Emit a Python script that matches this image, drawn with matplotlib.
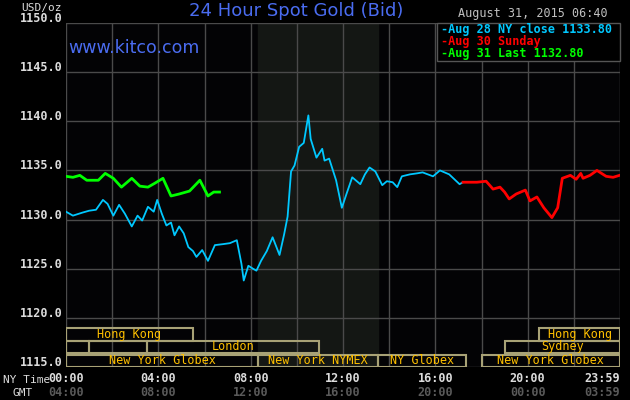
import matplotlib.pyplot as plt
from matplotlib.patches import Rectangle

# NY time in hours, price in USD/oz
aug28_h = [0.0, 0.3, 0.7, 1.0, 1.3, 1.6, 1.8, 2.05, 2.3, 2.55, 2.85, 3.1, 3.3, 3.55, 3.8, 3.95,
           4.15, 4.35, 4.55, 4.7, 4.9, 5.1, 5.3, 5.5, 5.65, 5.9, 6.15, 6.45, 6.8, 7.1, 7.4,
           7.6, 7.7, 7.9, 8.1, 8.25, 8.45, 8.7, 8.95, 9.25, 9.45, 9.6, 9.75, 9.9, 10.1, 10.3,
           10.5, 10.6, 10.85, 11.1, 11.2, 11.4, 11.7, 11.95, 12.15, 12.4, 12.75, 12.95, 13.15,
           13.4, 13.7, 13.9, 14.15, 14.35, 14.55, 14.9, 15.2, 15.45, 15.9, 16.2, 16.6, 17.05, 17.2]
aug28_p = [1130.8, 1130.4, 1130.7, 1130.9, 1131.0, 1132.0, 1131.6, 1130.4, 1131.5, 1130.6, 1129.3,
           1130.4, 1129.9, 1131.3, 1130.8, 1132.0, 1130.6, 1129.4, 1129.7, 1128.4, 1129.3, 1128.6,
           1127.2, 1126.8, 1126.2, 1126.9, 1125.8, 1127.4, 1127.5, 1127.6, 1127.9, 1125.5, 1123.8,
           1125.3, 1125.0, 1124.8, 1125.8, 1126.8, 1128.2, 1126.4, 1128.5, 1130.3, 1134.9, 1135.5,
           1137.4, 1137.8, 1140.6, 1138.2, 1136.3, 1137.2, 1136.0, 1136.2, 1134.0, 1131.2, 1132.6,
           1134.3, 1133.6, 1134.6, 1135.3, 1134.9, 1133.5, 1133.9, 1133.8, 1133.3, 1134.4, 1134.6,
           1134.7, 1134.8, 1134.4, 1135.0, 1134.6, 1133.6, 1133.8]
aug30_h = [17.2, 17.8, 18.2, 18.5, 18.8, 19.0, 19.2, 19.5, 19.9, 20.1, 20.4, 20.7, 21.05, 21.3,
           21.5, 21.85, 22.1, 22.3, 22.4, 22.7, 23.0, 23.4, 23.7, 23.98]
aug30_p = [1133.8, 1133.8, 1133.9, 1133.1, 1133.3, 1132.8, 1132.1, 1132.6, 1133.0, 1131.9, 1132.3,
           1131.2, 1130.2, 1131.2, 1134.2, 1134.5, 1134.1, 1134.7, 1134.2, 1134.5, 1135.0, 1134.4,
           1134.3, 1134.5]
aug31_h = [0.0, 0.3, 0.6, 0.9, 1.4, 1.7, 2.05, 2.4, 2.85, 3.2, 3.55, 3.85, 4.2, 4.55, 4.9, 5.35,
           5.8, 6.15, 6.4, 6.65]
aug31_p = [1134.4, 1134.3, 1134.5, 1134.0, 1134.0, 1134.7, 1134.2, 1133.3, 1134.2, 1133.4, 1133.3,
           1133.7, 1134.2, 1132.4, 1132.6, 1132.9, 1134.0, 1132.4, 1132.8, 1132.8]

y_ticks = [1115, 1120, 1125, 1130, 1135, 1140, 1145, 1150]
x_ticks = [0, 4, 8, 12, 16, 20, 24]
ny_labels = ["00:00", "04:00", "08:00", "12:00", "16:00", "20:00", "23:59"]
gmt_labels = ["04:00", "08:00", "12:00", "16:00", "20:00", "00:00", "03:59"]

# sessions: (row, start, end, label)
sessions = [
    (0, 0, 5.5, "Hong Kong"), (0, 20.5, 24, "Hong Kong"),
    (1, 0, 1.0, ""), (1, 1.0, 3.5, ""), (1, 3.5, 10.96, "London"), (1, 19.0, 24, "Sydney"),
    (2, 0, 8.33, "New York Globex"), (2, 8.33, 13.5, "New York NYMEX"),
    (2, 13.5, 17.33, "NY Globex"), (2, 18.0, 24, "New York Globex"),
]
row_y = [(1117.65, 1119.0), (1116.45, 1117.65), (1115.0, 1116.25)]

mono = "DejaVu Sans Mono"
fig = plt.figure(figsize=(6.3, 4.0), dpi=100, facecolor="black")
ax = fig.add_axes([66 / 630, 33 / 400, 554 / 630, 344 / 400], facecolor="#030305")
ax.set_xlim(0, 24)
ax.set_ylim(1115, 1150)

ax.axvspan(8.33, 13.5, color="#141714", zorder=0)
for t in range(0, 25, 2):
    ax.axvline(t, color="#4a4a4a", lw=1, zorder=1)
for v in y_ticks:
    ax.axhline(v, color="#4a4a4a", lw=1, zorder=1)

ax.plot(aug28_h, aug28_p, color="#00c8ff", lw=1.3, zorder=3)
ax.plot(aug30_h, aug30_p, color="#ff0000", lw=2.0, zorder=3)
ax.plot(aug31_h, aug31_p, color="#00ff00", lw=2.0, zorder=3)

for row, a, b, label in sessions:
    lo, hi = row_y[row]
    ax.add_patch(Rectangle((a, lo), b - a, hi - lo, fill=False, ec="#a8a276", lw=1.5, zorder=4))
    if label:
        ax.text((a + b) / 2, (lo + hi) / 2, label, color="#ffc000", fontsize=8.5, family=mono,
                ha="center", va="center", zorder=5)

for s in ax.spines.values():
    s.set_visible(False)
ax.set_xticks([])
ax.set_yticks([])
for v in y_ticks:
    ax.text(-0.15, v + 0.1, f"{v:.1f}", color="#dcdcdc", fontsize=8.5, family=mono,
            weight="bold", ha="right", va="baseline", clip_on=False)
for t, a, g in zip(x_ticks, ny_labels, gmt_labels):
    ha = "right" if t == 24 else "center"
    ax.text(t, 1113.8, a, color="#dcdcdc", fontsize=8.5, family=mono, weight="bold",
            ha=ha, va="center", clip_on=False)
    ax.text(t, 1112.4, g, color="#5a5a5a", fontsize=8.5, family=mono, weight="bold",
            ha=ha, va="center", clip_on=False)

fig.text(3 / 630, 1 - 380 / 400, "NY Time", color="#dcdcdc", fontsize=8, family=mono, va="center")
fig.text(12 / 630, 1 - 393 / 400, "GMT", color="#dcdcdc", fontsize=8, family=mono, va="center")
fig.text(21 / 630, 1 - 8 / 400, "USD/oz", color="#dcdcdc", fontsize=8, family=mono, va="center")

fig.text(296 / 630, 1 - 11 / 400, "24 Hour Spot Gold (Bid)", color="#4a6cf0", fontsize=13,
         ha="center", va="center")
fig.text(68 / 630, 1 - 48 / 400, "www.kitco.com", color="#4a6cf0", fontsize=12.5,
         ha="left", va="center")
fig.text(608 / 630, 1 - 14 / 400, "August 31, 2015 06:40", color="#c0c0c0", fontsize=8.5,
         family=mono, ha="right", va="center")

legend_items = [("Aug 28 NY close 1133.80", "#00c8ff"), ("Aug 30 Sunday", "#ff0000"),
                ("Aug 31 Last 1132.80", "#00ff00")]
fig.patches.append(Rectangle((437 / 630, 1 - 61 / 400), 183 / 630, 38 / 400, transform=fig.transFigure,
                             fc="black", ec="#555555", lw=1, zorder=6))
for i, (txt, c) in enumerate(legend_items):
    y = 1 - (29 + 12.5 * i) / 400
    fig.text(441 / 630, y, "-" + txt, color=c, fontsize=8.5, family=mono, weight="bold",
             va="center", zorder=7)

fig.savefig("out.png", dpi=100, facecolor="black")
